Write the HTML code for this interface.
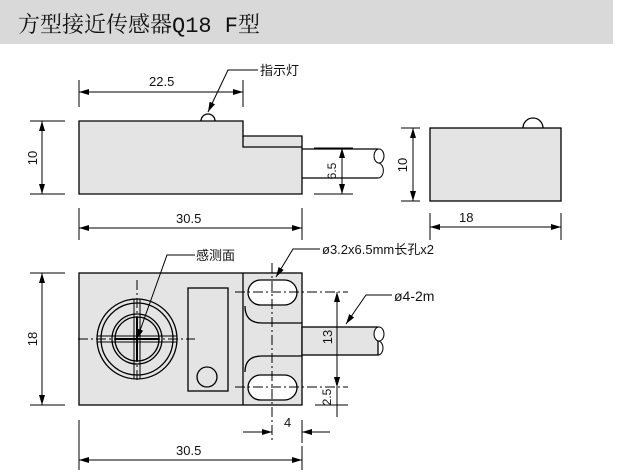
<!DOCTYPE html>
<html><head><meta charset="utf-8"><style>
html,body{margin:0;padding:0;background:#fff;width:618px;height:475px;overflow:hidden}
svg{display:block}
text{font-family:"Liberation Sans","Noto Sans CJK SC",sans-serif;fill:#111}
</style></head><body>
<svg width="618" height="475" viewBox="0 0 618 475" xmlns="http://www.w3.org/2000/svg">
<defs>
<marker id="a" viewBox="0 0 10 6" refX="10" refY="3" markerWidth="10" markerHeight="6" orient="auto-start-reverse" markerUnits="userSpaceOnUse"><path d="M0,0L10,3L0,6z" fill="#000"/></marker>
</defs>
<rect x="0" y="0" width="613" height="44" fill="#d9d9d9"/>
<text x="18" y="32" font-size="22" style="font-family:'Liberation Mono','Noto Serif CJK SC',monospace" fill="#222">方型接近传感器Q18 F型</text>

<g stroke="#000" stroke-width="1.3" fill="none">
<!-- top view -->
<path d="M201,121 A7,7 0 0 1 215,121" />
<path d="M79,121H243V136H302V194H79Z" fill="#e4e4e4"/>
<path d="M243,136V147H302"/>
<path d="M302,149H378M302,178H378"/>
<ellipse cx="379" cy="156" rx="5" ry="7" stroke-width="1"/>
<path d="M378,163 a5,7 0 0 1 0,15" stroke-width="1"/>
<g stroke-width="1">
<path d="M79,80V107M243,80V107"/>
<path d="M79,92H243" marker-start="url(#a)" marker-end="url(#a)"/>
<path d="M30,121H65M30,194H65"/>
<path d="M42,121V194" marker-start="url(#a)" marker-end="url(#a)"/>
<path d="M314,148H353M314,194H353"/>
<path d="M342,148V194" marker-start="url(#a)" marker-end="url(#a)"/>
<path d="M79,208V240M302,208V240"/>
<path d="M79,228H302" marker-start="url(#a)" marker-end="url(#a)"/>
<path d="M208,112L228,70H258" marker-start="url(#a)"/>
</g>
<!-- right view -->
<path d="M523,128 A10,10 0 0 1 543,128"/>
<rect x="430" y="128" width="131" height="73" fill="#e4e4e4"/>
<g stroke-width="1">
<path d="M401,128H420M401,201H420"/>
<path d="M413,128V201" marker-start="url(#a)" marker-end="url(#a)"/>
<path d="M430,213V240M561,213V240"/>
<path d="M430,227H561" marker-start="url(#a)" marker-end="url(#a)"/>
</g>
<!-- bottom view -->
<rect x="79" y="273" width="223" height="132" fill="#e4e4e4"/>
<path d="M243,273V405"/>
<path d="M302,323H262Q245,323 245,306M302,356H262Q245,356 245,372"/>
<rect x="302" y="327" width="76" height="28" fill="#e4e4e4"/>
<ellipse cx="379" cy="334" rx="5" ry="7" stroke-width="1" fill="#fff"/>
<path d="M378,341 a5,7 0 0 1 0,14" stroke-width="1"/>
<rect x="248" y="280" width="49" height="25" rx="12.5" fill="#fff"/>
<rect x="248" y="375" width="49" height="25" rx="12.5" fill="#fff"/>
<circle cx="137" cy="339" r="40"/><circle cx="137" cy="339" r="36"/>
<circle cx="137" cy="339" r="25"/><circle cx="137" cy="339" r="22"/>
<path d="M134,299V379M140,299V379M97,336H177M97,342H177" stroke-width="1"/>
<path d="M137,317V361M115,339H159" stroke-width="2"/>
<rect x="188" y="288" width="40" height="103"/>
<circle cx="207" cy="377" r="10"/>
<g stroke-width="1">
<path d="M78,339H195M137,280V380M235,292H348M235,387H348M272,263V443" stroke-dasharray="10,3,2,3"/>
<path d="M30,273H65M30,405H65"/>
<path d="M42,273V405" marker-start="url(#a)" marker-end="url(#a)"/>
<path d="M315,405H348"/>
<path d="M337,292V387" marker-start="url(#a)" marker-end="url(#a)"/>
<path d="M337,417V405M337,375V387" marker-end="url(#a)"/>
<path d="M337,387V417"/>
<path d="M302,420V443"/>
<path d="M243,432H272" marker-end="url(#a)"/>
<path d="M330,432H302" marker-end="url(#a)"/>
<path d="M79,420V470M302,446V470"/>
<path d="M79,460H302" marker-start="url(#a)" marker-end="url(#a)"/>
<path d="M137,339L167,255H195" marker-start="url(#a)"/>
<path d="M276,277L293,249H320" marker-start="url(#a)"/>
<path d="M346,324L366,295H392" marker-start="url(#a)"/>
</g>
</g>
<g font-size="13">
<text x="149" y="86">22.5</text>
<text x="260" y="75">指示灯</text>
<text x="176" y="223">30.5</text>
<text x="459" y="222">18</text>
<text x="176" y="455">30.5</text>
<text x="284" y="427">4</text>
<text x="196" y="260">感测面</text>
<text x="322" y="254">ø3.2x6.5mm长孔x2</text>
<text x="394" y="301" font-size="14">ø4-2m</text>
<text transform="translate(37,158) rotate(-90)" text-anchor="middle">10</text>
<text transform="translate(336,171) rotate(-90)" text-anchor="middle" font-size="12">6.5</text>
<text transform="translate(407,165) rotate(-90)" text-anchor="middle">10</text>
<text transform="translate(37,339) rotate(-90)" text-anchor="middle">18</text>
<text transform="translate(332,337) rotate(-90)" text-anchor="middle">13</text>
<text transform="translate(331,397) rotate(-90)" text-anchor="middle" font-size="12">2.5</text>
</g>
</svg>
</body></html>
